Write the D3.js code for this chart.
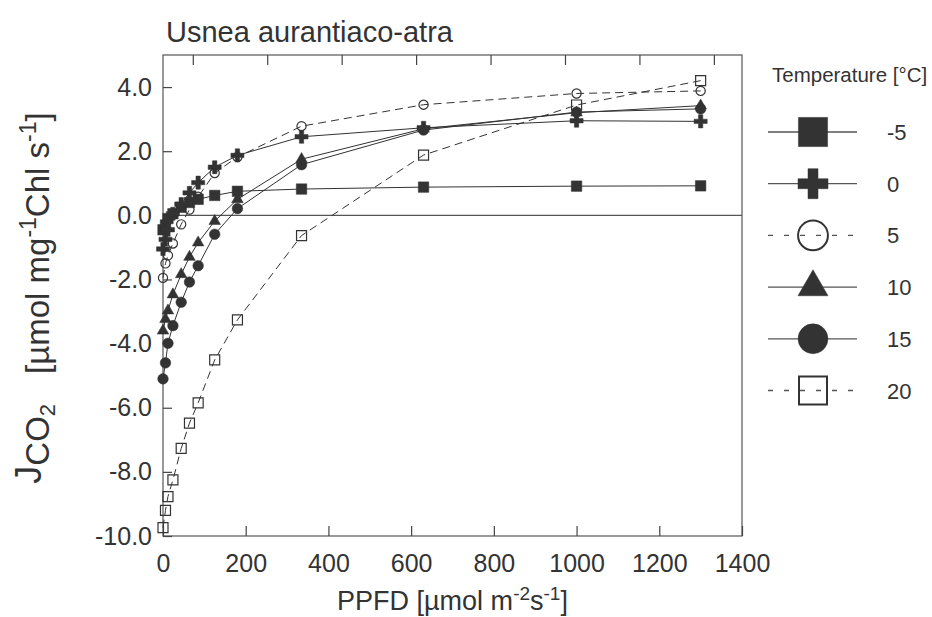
<!DOCTYPE html>
<html>
<head>
<meta charset="utf-8">
<script src="https://d3js.org/d3.v7.min.js"></script>
<style>
  body { margin: 0; background: #fff; }
  svg { font-family: "Liberation Sans", Arial, sans-serif; }
</style>
</head>
<body>
<svg id="chart" width="932" height="617"></svg>
<script>
// PPFD levels (x) and JCO2 values per temperature series
var ppfd = [0, 6, 12, 24, 44, 64, 85, 125, 180, 335, 630, 1000, 1300];
var jM5 = [-0.45, -0.3, -0.1, 0.05, 0.25, 0.4, 0.5, 0.62, 0.75, 0.82, 0.88, 0.91, 0.92];
var j0 = [-1.05, -0.75, -0.45, 0.05, 0.35, 0.7, 1.02, 1.5, 1.87, 2.45, 2.73, 2.95, 2.93];
var j5 = [-1.95, -1.5, -1.25, -0.88, -0.28, 0.18, 0.58, 1.32, 1.82, 2.78, 3.45, 3.8, 3.88];
var j10 = [-3.6, -3.24, -2.97, -2.47, -1.84, -1.3, -0.85, -0.18, 0.5, 1.75, 2.7, 3.2, 3.42];
var j15 = [-5.1, -4.6, -3.99, -3.44, -2.71, -2.08, -1.57, -0.59, 0.21, 1.58, 2.66, 3.22, 3.32];
var j20 = [-9.74, -9.2, -8.77, -8.25, -7.27, -6.48, -5.85, -4.51, -3.26, -0.63, 1.88, 3.44, 4.2];
var temps = ['-5', '0', '5', '10', '15', '20'];
var xTicks = [0, 200, 400, 600, 800, 1000, 1200, 1400];
var yTicks = [4, 2, 0, -2, -4, -6, -8, -10];
var topTicks = [72, 252, 432, 612, 792, 972, 1152, 1332];

var ink = '#333';
var svg = d3.select('#chart');
var pLeft = 163, pRight = 742, pTop = 55, pBottom = 536;

var x = d3.scaleLinear().domain([0, 1400]).range([pLeft, pRight]);
var y = d3.scaleLinear().domain([-10, 5]).range([pBottom, pTop]);

// series: values, symbol, size in plot, size in legend, filled?, dashed?
var series = [
  { vals: jM5, sym: d3.symbolSquare, s: 110, ls: 850, fill: true, dash: false },
  { vals: j0, sym: d3.symbolCross, s: 95, ls: 500, fill: true, dash: false },
  { vals: j5, sym: d3.symbolCircle, s: 66, ls: 700, fill: false, dash: true },
  { vals: j10, sym: d3.symbolTriangle, s: 58, ls: 390, fill: true, dash: false },
  { vals: j15, sym: d3.symbolCircle, s: 88, ls: 700, fill: true, dash: false },
  { vals: j20, sym: d3.symbolSquare, s: 100, ls: 784, fill: false, dash: true }
];

// frame
svg.append('rect').attr('x', pLeft).attr('y', pTop).attr('width', pRight - pLeft).attr('height', pBottom - pTop)
  .attr('fill', 'none').attr('stroke', '#555').attr('stroke-width', 1.2);

// axes
var gx = svg.append('g').attr('transform', 'translate(0,' + pBottom + ')')
  .call(d3.axisBottom(x).tickValues(xTicks).tickSize(-10).tickPadding(18).tickFormat(d3.format('d')));
var gy = svg.append('g').attr('transform', 'translate(' + pLeft + ',0)')
  .call(d3.axisLeft(y).tickValues(yTicks).tickSize(-9).tickPadding(11).tickFormat(function(d) { return d.toFixed(1); }));
var gt = svg.append('g').attr('transform', 'translate(0,' + pTop + ')')
  .call(d3.axisTop(x).tickValues(topTicks).tickSize(-10).tickFormat(''));
[gx, gy, gt].forEach(function(g) {
  g.select('.domain').remove();
  g.selectAll('line').attr('stroke', '#444').attr('stroke-width', 1.2);
  g.selectAll('text').attr('fill', ink).attr('font-size', 25).attr('font-family', '"Liberation Sans", Arial, sans-serif');
});

// zero line
svg.append('line').attr('x1', pLeft).attr('x2', pRight).attr('y1', y(0)).attr('y2', y(0))
  .attr('stroke', '#555').attr('stroke-width', 1.2);

var line = d3.line().x(function(d, i) { return x(ppfd[i]); }).y(function(d) { return y(d); });

series.forEach(function(s) {
  svg.append('path').attr('d', line(s.vals)).attr('fill', 'none').attr('stroke', ink)
    .attr('stroke-width', 1).attr('stroke-dasharray', s.dash ? '8,5' : null);
});
series.forEach(function(s) {
  svg.append('g').selectAll('path').data(s.vals).enter().append('path')
    .attr('d', d3.symbol().type(s.sym).size(s.s))
    .attr('transform', function(d, i) { return 'translate(' + x(ppfd[i]) + ',' + y(d) + ')'; })
    .attr('fill', s.fill ? ink : 'none')
    .attr('stroke', ink).attr('stroke-width', s.fill ? 0.5 : 1.2);
});

// title
svg.append('text').attr('x', 166).attr('y', 42).attr('font-size', 29).attr('fill', ink)
  .text('Usnea aurantiaco-atra');

// x label
var xl = svg.append('text').attr('x', x(700)).attr('y', 610).attr('text-anchor', 'middle')
  .attr('font-size', 27).attr('fill', ink);
xl.append('tspan').text('PPFD [µmol m');
xl.append('tspan').attr('font-size', 19).attr('dy', -10).text('-2');
xl.append('tspan').attr('dy', 10).text('s');
xl.append('tspan').attr('font-size', 19).attr('dy', -10).text('-1');
xl.append('tspan').attr('dy', 10).text(']');

// y label
var yl = svg.append('text').attr('transform', 'translate(49,298) rotate(-90)')
  .attr('text-anchor', 'middle').attr('font-size', 33).attr('fill', ink);
yl.append('tspan').attr('font-size', 36).attr('dy', -8).text('J');
yl.append('tspan').attr('dy', 8).text('CO');
yl.append('tspan').attr('font-size', 22).attr('dy', 6).text('2');
yl.append('tspan').attr('dy', -6).attr('dx', 30).text('[µmol mg');
yl.append('tspan').attr('font-size', 23).attr('dy', -13).text('-1');
yl.append('tspan').attr('dy', 13).text('Chl s');
yl.append('tspan').attr('font-size', 23).attr('dy', -13).text('-1');
yl.append('tspan').attr('dy', 13).text(']');

// legend
svg.append('text').attr('x', 772).attr('y', 82).attr('font-size', 20.5).attr('fill', ink)
  .text('Temperature [°C]');
var lg = svg.append('g').selectAll('g').data(series).enter().append('g')
  .attr('transform', function(d, i) { return 'translate(0,' + (132 + i * 51.7) + ')'; });
lg.append('line').attr('x1', 768).attr('x2', 857).attr('stroke', '#555').attr('stroke-width', 1.3)
  .attr('stroke-dasharray', function(d) { return d.dash ? '5,11' : null; });
lg.append('path').attr('d', function(d) { return d3.symbol().type(d.sym).size(d.ls)(); })
  .attr('transform', 'translate(813,0)')
  .attr('fill', function(d) { return d.fill ? ink : 'none'; })
  .attr('stroke', ink).attr('stroke-width', function(d) { return d.fill ? 0.5 : 2; });
lg.append('text').attr('x', 887).attr('y', 8).attr('font-size', 22).attr('fill', ink)
  .text(function(d, i) { return temps[i]; });
</script>
</body>
</html>
